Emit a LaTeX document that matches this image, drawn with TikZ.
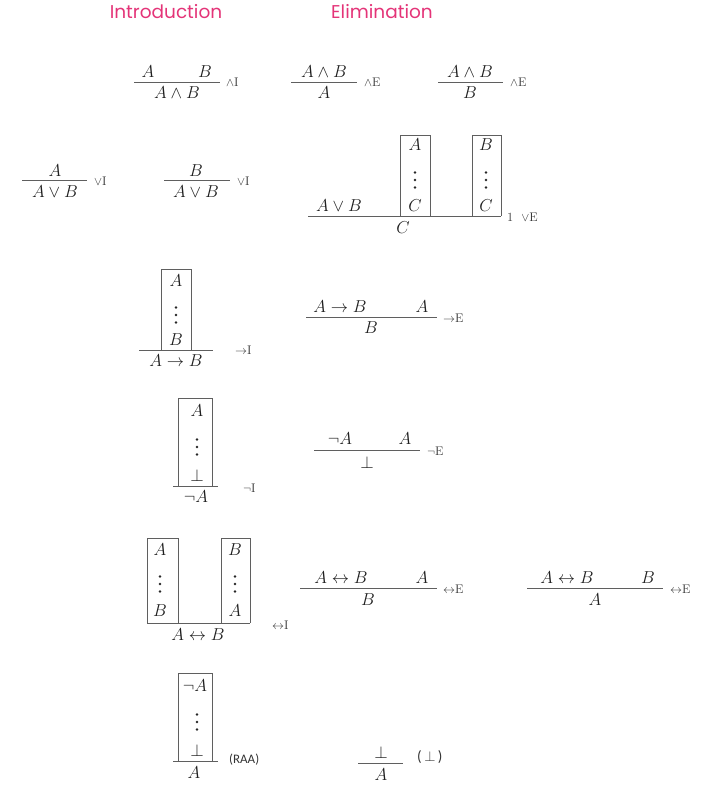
\documentclass[tikz,border=0pt]{standalone}
\usepackage{fontspec}
\usepackage{amsmath,amssymb}
\newfontfamily\headfont{Poppins}
\newfontfamily\calfont{Carlito}
\definecolor{headpink}{RGB}{228,52,120}
\definecolor{rulegray}{RGB}{95,95,95}
\tikzset{
  fm/.style={font=\fontsize{17}{20}\selectfont, inner sep=0pt, text=black!88},
  lbl/.style={font=\fontsize{12.5}{14}\selectfont, inner sep=0pt, anchor=west, text=black!80},
  bar/.style={draw=rulegray, line width=1pt},
  boxline/.style={draw=rulegray, line width=1pt},
  head/.style={font=\headfont\fontsize{18.5}{22}\selectfont, text=headpink, inner sep=0pt},
  dotsnode/.style={inner sep=0pt, minimum width=6pt, minimum height=20pt,
    path picture={\fill[black!85] (path picture bounding box.center) circle (1.3pt)
      ++(0,-7.5pt) circle (1.3pt) ++(0,15pt) circle (1.3pt);}},
}
\begin{document}
\begin{tikzpicture}[x=1pt,y=-1pt]
\useasboundingbox (0,0) rectangle (709,803);
% headings
\node[head] (hI) at (166,12) {Introduction};
\node[head] (hE) at (382,12) {Elimination};

% ---------- Row 1: and ----------
\node[fm] (aiA) at (148,72) {$A$};
\node[fm] (aiB) at (205,72) {$B$};
\coordinate (ai1) at (134,82); \coordinate (ai2) at (220,82);
\draw[bar] (ai1) -- (ai2);
\node[fm] (aiC) at (177,93) {$A\wedge B$};
\node[lbl] (ail) at (226,82) {$\wedge$I};

\node[fm] (ae1P) at (324,72) {$A\wedge B$};
\coordinate (ae11) at (291,82); \coordinate (ae12) at (357,82);
\draw[bar] (ae11) -- (ae12);
\node[fm] (ae1C) at (324,93) {$A$};
\node[lbl] (ae1l) at (364,82) {$\wedge$E};

\node[fm] (ae2P) at (470,72) {$A\wedge B$};
\coordinate (ae21) at (438,82); \coordinate (ae22) at (503,82);
\draw[bar] (ae21) -- (ae22);
\node[fm] (ae2C) at (470,93) {$B$};
\node[lbl] (ae2l) at (510,82) {$\wedge$E};

% ---------- Row 2: or ----------
\node[fm] (oi1P) at (55,171) {$A$};
\coordinate (oi11) at (22,180); \coordinate (oi12) at (87,180);
\draw[bar] (oi11) -- (oi12);
\node[fm] (oi1C) at (55,192) {$A\vee B$};
\node[lbl] (oi1l) at (94,181) {$\vee$I};

\node[fm] (oi2P) at (196,171) {$B$};
\coordinate (oi21) at (164,180); \coordinate (oi22) at (230,180);
\draw[bar] (oi21) -- (oi22);
\node[fm] (oi2C) at (196,192) {$A\vee B$};
\node[lbl] (oi2l) at (237,181) {$\vee$I};

\node[fm] (oeP) at (339,206) {$A\vee B$};
\coordinate (ob1a) at (400,216); \coordinate (ob1b) at (400,135);
\coordinate (ob1c) at (430,135); \coordinate (ob1d) at (430,216);
\draw[boxline] (ob1a) -- (ob1b) -- (ob1c) -- (ob1d);
\node[fm] (ob1A) at (415,145) {$A$};
\node[dotsnode] (ob1v) at (415,180) {};
\node[fm] (ob1C) at (415,206) {$C$};
\coordinate (ob2a) at (472,216); \coordinate (ob2b) at (472,135);
\coordinate (ob2c) at (501,135); \coordinate (ob2d) at (501,216);
\draw[boxline] (ob2a) -- (ob2b) -- (ob2c) -- (ob2d);
\node[fm] (ob2B) at (486,145) {$B$};
\node[dotsnode] (ob2v) at (486,180) {};
\node[fm] (ob2C) at (486,206) {$C$};
\coordinate (oe1) at (308,216); \coordinate (oe2) at (501,216);
\draw[bar] (oe1) -- (oe2);
\node[fm] (oeC) at (403,228) {$C$};
\node[lbl] (oel) at (507,217) {1\ \ $\vee$E};

% ---------- Row 3: implication ----------
\coordinate (ib1) at (161,350); \coordinate (ib2) at (161,269);
\coordinate (ib3) at (191,269); \coordinate (ib4) at (191,350);
\draw[boxline] (ib1) -- (ib2) -- (ib3) -- (ib4);
\node[fm] (ibA) at (176,281) {$A$};
\node[dotsnode] (ibv) at (176,315) {};
\node[fm] (ibB) at (176,340) {$B$};
\coordinate (ii1) at (139,350); \coordinate (ii2) at (213,350);
\draw[bar] (ii1) -- (ii2);
\node[fm] (iiC) at (176,361) {$A\to B$};
\node[lbl] (iil) at (235,350) {$\to$I};

\node[fm] (ieP1) at (340,307) {$A\to B$};
\node[fm] (ieP2) at (422,307) {$A$};
\coordinate (ie1) at (306,317); \coordinate (ie2) at (437,317);
\draw[bar] (ie1) -- (ie2);
\node[fm] (ieC) at (371,328) {$B$};
\node[lbl] (iel) at (443,318) {$\to$E};

% ---------- Row 4: negation ----------
\coordinate (nb1) at (178,486); \coordinate (nb2) at (178,398);
\coordinate (nb3) at (212,398); \coordinate (nb4) at (212,486);
\draw[boxline] (nb1) -- (nb2) -- (nb3) -- (nb4);
\node[fm] (nbA) at (197,411) {$A$};
\node[dotsnode] (nbv) at (197,447) {};
\node[fm] (nbF) at (197,475) {$\bot$};
\coordinate (ni1) at (173,486); \coordinate (ni2) at (218,486);
\draw[bar] (ni1) -- (ni2);
\node[fm] (niC) at (196,497) {$\neg A$};
\node[lbl] (nil) at (243,488) {$\neg$I};

\node[fm] (neP1) at (340,439) {$\neg A$};
\node[fm] (neP2) at (405,439) {$A$};
\coordinate (ne1) at (314,450); \coordinate (ne2) at (420,450);
\draw[bar] (ne1) -- (ne2);
\node[fm] (neC) at (367,462) {$\bot$};
\node[lbl] (nel) at (427,451) {$\neg$E};

% ---------- Row 5: biconditional ----------
\coordinate (bb1a) at (147,623); \coordinate (bb1b) at (147,538);
\coordinate (bb1c) at (178,538); \coordinate (bb1d) at (178,623);
\draw[boxline] (bb1a) -- (bb1b) -- (bb1c) -- (bb1d);
\node[fm] (bb1A) at (160,550) {$A$};
\node[dotsnode] (bb1v) at (160,584) {};
\node[fm] (bb1B) at (160,611) {$B$};
\coordinate (bb2a) at (221,623); \coordinate (bb2b) at (221,538);
\coordinate (bb2c) at (250,538); \coordinate (bb2d) at (250,623);
\draw[boxline] (bb2a) -- (bb2b) -- (bb2c) -- (bb2d);
\node[fm] (bb2B) at (235,550) {$B$};
\node[dotsnode] (bb2v) at (235,584) {};
\node[fm] (bb2A) at (235,611) {$A$};
\coordinate (bi1) at (147,623); \coordinate (bi2) at (250,623);
\draw[bar] (bi1) -- (bi2);
\node[fm] (biC) at (198,635) {$A\leftrightarrow B$};
\node[lbl] (bil) at (272,625) {$\leftrightarrow$I};

\node[fm] (be1P1) at (341,578) {$A\leftrightarrow B$};
\node[fm] (be1P2) at (422,578) {$A$};
\coordinate (be11) at (300,588); \coordinate (be12) at (437,588);
\draw[bar] (be11) -- (be12);
\node[fm] (be1C) at (368,600) {$B$};
\node[lbl] (be1l) at (443,589) {$\leftrightarrow$E};

\node[fm] (be2P1) at (567,578) {$A\leftrightarrow B$};
\node[fm] (be2P2) at (648,578) {$B$};
\coordinate (be21) at (527,588); \coordinate (be22) at (663,588);
\draw[bar] (be21) -- (be22);
\node[fm] (be2C) at (595,600) {$A$};
\node[lbl] (be2l) at (670,589) {$\leftrightarrow$E};

% ---------- Row 6: RAA and falsum ----------
\coordinate (rb1) at (178,761); \coordinate (rb2) at (178,673);
\coordinate (rb3) at (212,673); \coordinate (rb4) at (212,761);
\draw[boxline] (rb1) -- (rb2) -- (rb3) -- (rb4);
\node[fm] (rbN) at (195,686) {$\neg A$};
\node[dotsnode] (rbv) at (197,722) {};
\node[fm] (rbF) at (197,750) {$\bot$};
\coordinate (ra1) at (173,761); \coordinate (ra2) at (218,761);
\draw[bar] (ra1) -- (ra2);
\node[fm] (raC) at (194,773) {$A$};
\node[lbl, font=\calfont\fontsize{13}{15}\selectfont] (ral) at (229,760) {(RAA)};

\node[fm] (fP) at (381,752) {$\bot$};
\coordinate (f1) at (358,763); \coordinate (f2) at (403,763);
\draw[bar] (f1) -- (f2);
\node[fm] (fC) at (381,775) {$A$};
\node[lbl, font=\calfont\fontsize{15}{17}\selectfont] (fl) at (417,757) {(\,$\bot$\,)};
\end{tikzpicture}
\end{document}
